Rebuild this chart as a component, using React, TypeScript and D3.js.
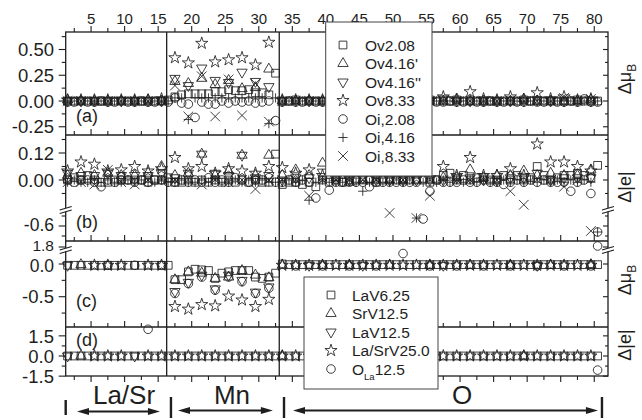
import React from "react";
import * as d3 from "d3";

const _ = null;
type V = number | null;

// ---------- x axis : atom index ----------
const xMajorTicks = [5, 10, 15, 20, 25, 30, 35, 40, 45, 50, 55, 60, 65, 70, 75, 80];
const xMinorTicks = [2.5, 7.5, 12.5, 17.5, 22.5, 27.5, 32.5, 37.5, 42.5, 47.5, 52.5, 57.5, 62.5, 67.5, 72.5, 77.5];
const atoms = d3.range(1, 81);
const regionBounds = [16.27, 33.05];
const groupLabels = ["La/Sr", "Mn", "O"];
const groupEdges = [1.22, 16.91, 33.76, 81.15];
const groupArrowFrom = [2.9, 17.96, 35.1];
const groupArrowTo = [15.27, 32.1, 80.55];
const groupLabelAt = [9.91, 26.0, 60.3];

// ---------- panel (a) : delta mu_B, O vacancies / interstitials ----------
const aOv208: V[] = [
  0, 0, 0, 0, 0, 0, 0, 0, 0, 0, 0, 0, 0, 0, 0, .01,
  .04, .06, .07, .07, .07, .07, .09, .09, .11, .10, .10, .11, .08, .08, .06, .27,
  0, 0, .01, 0, 0, 0, 0, 0, 0, 0, 0, 0, 0, 0, 0, 0,
  0, 0, 0, 0, 0, 0, .01, 0, 0, 0, .01, 0, 0, 0, 0, 0,
  0, 0, 0, 0, .01, 0, 0, 0, 0, 0, 0, 0, .01, 0, 0, 0];
const aOv416a: V[] = [
  .01, _, 0, _, 0, _, 0, _, 0, _, 0, _, .01, _, 0, _,
  .19, _, .17, _, .22, _, .16, _, .20, _, .12, _, .13, _, .31, _,
  0, _, 0, _, 0, _, 0, _, 0, _, 0, _, 0, _, 0, _,
  0, _, 0, _, 0, _, 0, _, 0, _, .02, _, 0, _, 0, _,
  0, _, 0, _, .02, _, 0, _, 0, _, 0, _, 0, _, .01, _];
const aOv416b: V[] = [
  0, _, 0, _, 0, _, 0, _, 0, _, 0, _, 0, _, 0, _,
  .22, _, .15, _, .32, _, .20, _, .18, _, .28, _, .19, _, .14, _,
  0, _, 0, _, 0, _, 0, _, 0, _, 0, _, 0, _, 0, _,
  0, _, 0, _, 0, _, 0, _, .02, _, 0, _, 0, _, 0, _,
  0, _, 0, _, 0, _, .01, _, 0, _, 0, _, 0, _, 0, _];
const aOv833: V[] = [
  .01, _, .01, _, .01, _, .01, _, .01, _, .01, _, .01, _, .02, _,
  .42, _, .37, _, .56, _, .38, _, .40, _, .42, _, .35, _, .57, _,
  .01, _, .01, _, .01, _, .01, _, .01, _, .01, _, .01, _, .01, _,
  .01, _, .01, _, .01, _, .01, _, .04, _, .01, _, .09, _, .02, _,
  .01, _, .04, _, .01, _, .08, _, .02, _, .04, _, .01, _, .02, _];
const aOi208: V[] = [
  -.01, -.01, 0, -.01, -.01, 0, -.01, -.01, 0, -.01, -.01, 0, -.01, -.01, 0, -.01,
  .03, -.02, -.03, -.16, -.01, -.03, -.03, 0, -.02, 0, -.01, 0, -.02, -.01, 0, -.19,
  -.01, 0, -.01, -.01, 0, -.01, -.01, 0, -.01, -.01, 0, -.01, -.01, 0, -.01, -.01,
  0, -.01, -.01, 0, -.01, -.01, 0, -.01, -.01, 0, -.01, -.01, 0, -.01, -.01, 0,
  -.01, -.01, 0, -.01, -.01, 0, -.01, -.01, 0, -.01, -.01, 0, -.01, .02, -.01, -.01];
const aOi416: V[] = [
  0, 0, 0, 0, 0, 0, 0, 0, 0, 0, 0, 0, 0, 0, 0, 0,
  .03, .03, -.18, .03, .03, .03, .03, .03, .03, .03, .03, .03, .03, .03, -.22, .03,
  0, 0, 0, 0, 0, 0, 0, 0, 0, 0, 0, 0, 0, 0, 0, 0,
  0, 0, 0, 0, 0, 0, 0, 0, 0, 0, 0, 0, 0, 0, 0, 0,
  0, 0, 0, 0, 0, 0, .01, 0, 0, 0, 0, 0, 0, 0, 0, 0];
const aOi833: V[] = [
  0, _, 0, _, 0, _, 0, _, 0, _, 0, _, 0, _, 0, _,
  .15, _, -.15, _, .24, _, -.15, _, .21, _, -.14, _, .17, _, -.20, _,
  0, _, 0, _, 0, _, 0, _, 0, _, 0, _, 0, _, 0, _,
  0, _, 0, _, 0, _, 0, _, 0, _, 0, _, 0, _, 0, _,
  0, _, 0, _, 0, _, 0, _, 0, _, .03, _, 0, _, .02, _];

// ---------- panel (b) : delta |e| ----------
const bOv208: V[] = [
  0, .01, 0, .02, 0, -.01, -.01, 0, 0, 0, 0, 0, -.01, 0, 0, .01,
  -.01, -.01, 0, -.01, 0, -.01, 0, -.01, 0, -.01, 0, -.01, 0, -.01, -.01, .115,
  -.02, -.01, -.01, -.02, -.01, -.03, 0, -.01, 0, -.01, 0, 0, 0, 0, -.01, 0,
  0, 0, 0, 0, 0, 0, -.01, 0, .02, .03, 0, .02, 0, .01, .01, 0,
  0, .02, 0, .02, 0, .01, .06, .02, 0, .01, .02, .02, .03, .02, .01, .065];
const bOv416a: V[] = [
  .02, _, .03, _, .02, _, .03, _, .02, _, .02, _, .03, _, .06, _,
  .02, _, .03, _, .115, _, .02, _, .04, _, .11, _, .02, _, .11, _,
  .02, _, .045, _, .02, _, .075, _, .01, _, -.01, _, 0, _, 0, _,
  0, _, 0, _, 0, _, 0, _, .01, _, .01, _, .045, _, .01, _,
  .02, _, .02, _, .04, _, .02, _, .03, _, .02, _, .02, _, .045, _];
const bOv416b: V[] = [
  .03, _, .02, _, .02, _, .03, _, .02, _, .02, _, .02, _, .03, _,
  .01, _, .03, _, .115, _, .03, _, .02, _, .11, _, .01, _, .02, _,
  0, _, .01, _, .01, _, .035, _, 0, _, 0, _, .01, _, 0, _,
  0, _, 0, _, 0, _, 0, _, 0, _, .01, _, .01, _, 0, _,
  0, _, .01, _, .01, _, .03, _, 0, _, .01, _, .01, _, .01, _];
const bOv833: V[] = [
  .04, _, .08, _, .07, _, .04, _, .045, _, .06, _, .04, _, .05, _,
  .10, _, .05, _, .06, _, .03, _, .05, _, .04, _, .03, _, .06, _,
  .055, _, .03, _, .045, _, .02, _, .01, _, .01, _, .01, _, .01, _,
  .01, _, .01, _, .01, _, .01, _, .06, _, .02, _, .10, _, .02, _,
  .02, _, .05, _, .02, _, .16, _, .08, _, .08, _, .06, _, .04, _];
const bOi208: V[] = [
  0, -.01, 0, 0, -.01, -.03, 0, -.01, 0, 0, -.01, 0, -.01, 0, 0, -.01,
  -.01, 0, -.01, 0, -.01, .01, -.01, 0, -.01, .01, 0, -.01, 0, 0, .01, -.01,
  -.01, 0, -.01, 0, -.01, -.08, .01, -.045, -.01, -.01, -.01, -.01, -.01, -.03, -.01, -.01,
  -.01, -.01, -.01, -.01, -.01, -.53, -.05, 0, -.01, -.01, -.01, 0, -.01, -.01, 0, -.01,
  -.01, -.02, -.01, 0, -.01, 0, -.01, 0, -.01, -.01, -.01, -.05, -.01, 0, -.06, -.66];
const bOi416: V[] = [
  -.01, 0, -.01, -.01, 0, -.01, 0, -.01, -.01, 0, -.01, 0, -.01, -.01, 0, -.01,
  -.01, 0, -.01, -.01, 0, -.01, 0, -.01, -.01, 0, -.01, 0, -.01, 0, -.01, -.01,
  -.01, 0, -.01, 0, -.09, -.01, 0, -.01, 0, -.01, 0, -.01, -.05, -.01, 0, -.01,
  -.01, 0, -.01, 0, -.52, -.01, 0, -.01, 0, -.01, 0, -.01, 0, -.01, 0, -.01,
  -.01, 0, -.01, 0, -.01, 0, -.01, 0, -.01, 0, -.01, 0, -.01, 0, -.01, -.66];
const bOi833: V[] = [
  -.01, _, -.01, _, -.02, _, .045, _, -.01, _, -.02, _, 0, _, 0, _,
  0, _, 0, _, -.02, _, 0, _, -.01, _, 0, _, -.04, _, 0, _,
  0, _, 0, _, -.07, _, 0, _, 0, _, 0, _, 0, _, 0, _,
  -.47, _, 0, _, -.52, _, -.07, _, 0, _, 0, _, 0, _, 0, _,
  0, _, -.05, _, -.11, _, 0, _, 0, _, -.03, _, 0, _, -.65, _];

// ---------- panel (c) : delta mu_B, cation vacancies ----------
const cLaV625: V[] = [
  -.02, -.02, -.02, -.02, -.02, -.02, -.02, -.02, -.02, -.02, -.02, -.02, -.02, -.02, -.02, -.02,
  -.24, -.24, -.12, -.08, -.09, -.10, -.22, -.14, -.12, -.10, -.10, -.10, -.20, -.22, -.20, -.14,
  0, -.01, -.01, -.01, -.01, -.01, -.01, -.01, -.01, -.01, -.01, -.01, -.01, -.01, -.01, -.01,
  -.01, -.01, -.01, -.01, -.01, -.01, -.01, -.01, -.01, -.01, -.01, -.01, -.01, -.01, -.01, -.01,
  -.01, -.01, -.01, -.01, -.01, -.01, -.01, -.01, -.01, -.01, -.01, -.01, -.01, -.01, -.01, -.01];
const cSrV125: V[] = [
  _, _, -.01, _, _, _, _, _, _, _, _, _, _, _, _, _,
  -.24, _, -.12, _, -.14, _, -.22, _, -.20, _, -.10, _, -.17, _, -.21, _,
  -.02, _, _, _, _, _, -.02, _, _, _, -.02, _, _, _, _, _,
  -.02, _, _, _, _, _, -.02, _, _, _, _, _, -.02, _, _, _,
  _, _, -.02, _, _, _, _, _, -.02, _, _, _, _, _, -.01, _];
const cLaV125: V[] = [
  -.02, _, _, _, _, _, _, _, _, _, _, _, _, _, _, _,
  -.42, _, -.28, _, -.17, _, -.38, _, -.17, _, -.25, _, -.43, _, -.35, _,
  _, _, _, _, -.02, _, _, _, _, _, _, _, -.02, _, _, _,
  _, _, _, _, _, _, _, _, -.02, _, _, _, _, _, _, _,
  _, _, _, _, _, _, -.02, _, _, _, _, _, _, _, _, _];
const cLaSrV25: V[] = [
  _, _, _, _, -.02, _, -.02, _, -.02, _, _, _, -.02, _, -.02, _,
  -.65, _, -.69, _, -.62, _, -.64, _, -.49, _, -.55, _, -.65, _, -.54, _,
  -.02, _, -.02, _, -.02, _, -.02, _, -.02, _, -.02, _, -.02, _, -.02, _,
  -.02, _, -.02, _, -.02, _, -.02, _, -.02, _, -.02, _, -.02, _, -.02, _,
  -.02, _, -.02, _, -.02, _, -.02, _, -.02, _, -.02, _, -.02, _, -.02, _];
const cOLa125: V[] = [
  _, _, _, _, _, _, -.02, _, _, _, -.02, _, _, _, -.02, _,
  -.45, _, -.30, _, -.20, _, -.40, _, -.20, _, -.27, _, -.45, _, -.37, _,
  _, _, -.03, _, _, _, -.03, _, _, _, -.03, _, _, _, -.03, _,
  _, _, .16, _, _, _, -.03, _, _, _, -.03, _, _, _, -.03, _,
  _, _, -.03, _, _, _, -.03, _, _, _, -.03, _, _, _, -.03, 1.81];

// ---------- panel (d) : delta |e| ----------
const dLaV625: V[] = [
  0, 0, 0, 0, 0, 0, 0, 0, 0, 0, 0, 0, 0, 0, 0, 0,
  0, 0, 0, 0, 0, 0, 0, 0, 0, 0, 0, 0, 0, 0, 0, 0,
  0, 0, 0, 0, 0, 0, 0, 0, 0, 0, 0, 0, 0, 0, 0, 0,
  0, 0, 0, 0, 0, 0, 0, 0, 0, 0, 0, 0, 0, 0, 0, 0,
  0, 0, 0, 0, 0, 0, 0, 0, 0, 0, 0, 0, 0, 0, 0, 0];
const dSrV125: V[] = [
  _, _, 0, _, _, _, _, _, _, _, _, _, _, _, _, _,
  _, _, _, _, _, _, _, _, _, _, _, _, _, _, _, _,
  0, _, _, _, _, _, _, _, _, _, 0, _, _, _, _, _,
  _, _, _, _, _, _, 0, _, _, _, _, _, _, _, _, _,
  _, _, _, _, 0, _, _, _, _, _, _, _, _, _, _, _];
const dLaV125: V[] = [
  0, _, _, _, _, _, _, _, _, _, 0, _, _, _, _, _,
  _, _, _, _, _, _, _, _, _, _, _, _, _, _, _, _,
  _, _, _, _, _, _, _, _, _, _, _, _, _, _, _, _,
  _, _, _, _, _, _, _, _, _, _, _, _, _, _, _, _,
  _, _, _, _, _, _, _, _, _, _, _, _, _, _, _, _];
const dLaSrV25: V[] = [
  _, _, _, _, 0, _, 0, _, 0, _, _, _, 0, _, 0, _,
  0, _, 0, _, 0, _, 0, _, 0, _, 0, _, 0, _, 0, _,
  0, _, 0, _, 0, _, 0, _, 0, _, 0, _, 0, _, 0, _,
  0, _, 0, _, 0, _, 0, _, 0, _, 0, _, 0, _, 0, _,
  0, _, 0, _, 0, _, 0, _, 0, _, 0, _, 0, _, 0, _];
const dOLa125: V[] = [
  _, _, _, _, _, _, _, _, _, _, _, _, 1.99, _, _, _,
  _, _, _, _, _, _, _, _, _, _, _, _, _, _, _, _,
  _, _, _, _, _, _, _, _, _, _, _, _, _, _, _, _,
  _, _, _, _, _, _, _, _, _, _, _, _, _, _, _, _,
  _, _, _, _, _, _, _, _, _, _, _, _, _, _, _, -1.05];

// ---------- legends / symbols ----------
const legendANames = ["Ov2.08", "Ov4.16'", "Ov4.16''", "Ov8.33", "Oi,2.08", "Oi,4.16", "Oi,8.33"];
const legendASymbols = ["square", "triUp", "triDown", "star", "circle", "plus", "cross"];
const legendBNames = ["LaV6.25", "SrV12.5", "LaV12.5", "La/SrV25.0", "O|La|12.5"];
const legendBSymbols = ["square", "triUp", "triDown", "star", "circle"];

// ---------- y tick values ----------
const aTicks = [0.5, 0.25, 0, -0.25];
const aTickLabels = ["0.50", "0.25", "0.00", "-0.25"];
const aMinor = [0.625, 0.375, 0.125, -0.125];
const bTicks = [0.12, 0, -0.6];
const bTickLabels = ["0.12", "0.00", "-0.6"];
const bMinor = [0.18, 0.06, -0.06, -0.5, -0.7];
const cTicks = [1.8, 0, -0.5];
const cTickLabels = ["1.8", "0.0", "-0.5"];
const cMinor = [-0.25, -0.75];
const dTicks = [1.5, 0, -1.5];
const dTickLabels = ["1.5", "0.0", "-1.5"];
const dMinor = [0.75, -0.75];

// ---------- layout ----------
const FONT = "'Liberation Sans', Arial, Helvetica, sans-serif";
const INK = "#1e1e1e";
const XL = 65.7, XR = 608;
const x = d3.scaleLinear().domain([1.22, 82.05]).range([XL, XR]);
const ATOM_SHIFT = 0.5;

type Seg = { top: number; bottom: number; lo: number; hi: number };
type Panel = {
  tag: string; tagY: number; title: "mu" | "e"; titleY: number;
  segs: Seg[]; breakY?: number;
  ticks: number[]; tickLabels: string[]; minor: number[];
  labelSize: number[]; labelShift: number[];
  series: V[][]; symbols: string[];
};

const panels: Panel[] = [
  { tag: "(a)", tagY: 122, title: "mu", titleY: 79,
    segs: [{ top: 32, bottom: 135, lo: -0.33, hi: 0.67 }],
    ticks: aTicks, tickLabels: aTickLabels, minor: aMinor,
    labelSize: [18.5, 18.5, 18.5, 18.5], labelShift: [0, 0, 0, 0],
    series: [aOv208, aOv416a, aOv416b, aOv833, aOi208, aOi416, aOi833], symbols: legendASymbols },
  { tag: "(b)", tagY: 228, title: "e", titleY: 187,
    segs: [{ top: 135, bottom: 209, lo: -0.129, hi: 0.2 }, { top: 210, bottom: 241, lo: -0.75, hi: -0.44 }],
    breakY: 209.5,
    ticks: bTicks, tickLabels: bTickLabels, minor: bMinor,
    labelSize: [18.5, 18.5, 17.5], labelShift: [0, 0, -1],
    series: [bOv208, bOv416a, bOv416b, bOv833, bOi208, bOi416, bOi833], symbols: legendASymbols },
  { tag: "(c)", tagY: 307, title: "mu", titleY: 280,
    segs: [{ top: 241, bottom: 249, lo: 1.78, hi: 1.86 }, { top: 250, bottom: 327, lo: -0.963, hi: 0.214 }],
    breakY: 249.5,
    ticks: cTicks, tickLabels: cTickLabels, minor: cMinor,
    labelSize: [15.5, 17.5, 18.5], labelShift: [-1.5, 1.5, 0],
    series: [cLaV625, cSrV125, cLaV125, cLaSrV25, cOLa125], symbols: legendBSymbols },
  { tag: "(d)", tagY: 346, title: "e", titleY: 345,
    segs: [{ top: 327, bottom: 376, lo: -1.49, hi: 2.16 }],
    ticks: dTicks, tickLabels: dTickLabels, minor: dMinor,
    labelSize: [18.5, 18.5, 18.5], labelShift: [0, 0, 0],
    series: [dLaV625, dSrV125, dLaV125, dLaSrV25, dOLa125], symbols: legendBSymbols },
];

function yOf(p: Panel, v: number): number {
  let seg = p.segs.find((s) => v >= s.lo && v <= s.hi);
  if (!seg) {
    seg = p.segs.reduce((best, s) =>
      Math.min(Math.abs(v - s.lo), Math.abs(v - s.hi)) < Math.min(Math.abs(v - best.lo), Math.abs(v - best.hi)) ? s : best);
  }
  return d3.scaleLinear().domain([seg.lo, seg.hi]).range([seg.bottom, seg.top])(v);
}

const symPaths: Record<string, string> = {
  square: d3.symbol(d3.symbolSquare, 60)() as string,
  triUp: d3.symbol(d3.symbolTriangle, 46)() as string,
  triDown: d3.symbol(d3.symbolTriangle, 46)() as string,
  star: d3.symbol(d3.symbolStar, 46)() as string,
  circle: d3.symbol(d3.symbolCircle, 58)() as string,
  plus: "M-4.6,0H4.6M0,-4.6V4.6",
  cross: "M-4.8,-4.8L4.8,4.8M-4.8,4.8L4.8,-4.8",
};

function Marker({ type, cx, cy }: { type: string; cx: number; cy: number }) {
  const rot = type === "triDown" ? " rotate(180)" : "";
  return (
    <path d={symPaths[type]} transform={`translate(${cx},${cy})${rot}`}
      fill="none" stroke={INK} strokeWidth={0.85} />
  );
}

function BreakMark({ bx, by }: { bx: number; by: number }) {
  return (
    <g>
      <rect x={bx - 5} y={by - 1.5} width={10} height={3.5} fill="#fff" />
      <line x1={bx - 6} y1={by + 0.5} x2={bx + 6} y2={by - 3} stroke={INK} strokeWidth={1.1} />
      <line x1={bx - 6} y1={by + 4} x2={bx + 6} y2={by + 0.5} stroke={INK} strokeWidth={1.1} />
    </g>
  );
}

function Arrow({ x1, x2, y }: { x1: number; x2: number; y: number }) {
  const L = 12, Hw = 3.6;
  return (
    <g>
      <line x1={x1 + L - 1} y1={y} x2={x2 - L + 1} y2={y} stroke={INK} strokeWidth={2} />
      <path d={`M${x1},${y}L${x1 + L},${y - Hw}L${x1 + L},${y + Hw}Z`} fill={INK} />
      <path d={`M${x2},${y}L${x2 - L},${y - Hw}L${x2 - L},${y + Hw}Z`} fill={INK} />
    </g>
  );
}

function LegendLabel({ text }: { text: string }) {
  if (text.includes("|")) {
    const [a, sub, b] = text.split("|");
    return (
      <>
        {a}
        <tspan fontSize={9.5} dy={5}>{sub}</tspan>
        <tspan dy={-5}>{b}</tspan>
      </>
    );
  }
  return <>{text}</>;
}

function Legend({ bx, by, w, h, symX, textX, row0, dy, names, symbols }:
  { bx: number; by: number; w: number; h: number; symX: number; textX: number; row0: number; dy: number; names: string[]; symbols: string[] }) {
  return (
    <g>
      <rect x={bx} y={by} width={w} height={h} fill="#fff" stroke="#444" strokeWidth={1} />
      {names.map((n, i) => (
        <g key={n}>
          <Marker type={symbols[i]} cx={symX} cy={row0 + i * dy} />
          <text x={textX} y={row0 + i * dy} dy="0.36em" fontSize={15.5} fill={INK}>
            <LegendLabel text={n} />
          </text>
        </g>
      ))}
    </g>
  );
}

export default function App() {
  const top = panels[0].segs[0].top;
  const bottom = panels[3].segs[0].bottom;
  const hLines = [135, 241, 327];
  const tickRows = [32, 135, 241, 327];

  return (
    <svg width={642} height={420} viewBox="0 0 642 420"
      style={{ position: "absolute", left: 0, top: 0, background: "#fff" }} fontFamily={FONT}>
      <rect x={0} y={0} width={642} height={420} fill="#fff" />

      {/* data markers */}
      {panels.map((p, pi) =>
        p.series.map((vals, si) =>
          vals.map((v, i) =>
            v == null ? null : (
              <Marker key={`${pi}-${si}-${i}`} type={p.symbols[si]}
                cx={x(atoms[i] + ATOM_SHIFT)} cy={yOf(p, v)} />
            )
          )
        )
      )}

      {/* frame */}
      <rect x={XL} y={top} width={XR - XL} height={bottom - top} fill="none" stroke={INK} strokeWidth={1.3} />
      {hLines.map((hy) => (
        <line key={hy} x1={XL} x2={XR} y1={hy} y2={hy} stroke={INK} strokeWidth={1.3} />
      ))}
      {regionBounds.map((b) => (
        <line key={b} x1={x(b)} x2={x(b)} y1={top} y2={bottom} stroke={INK} strokeWidth={1.3} />
      ))}

      {/* x ticks (pointing up from each panel top, down at bottom) */}
      {tickRows.map((ty) => (
        <g key={ty}>
          {xMajorTicks.map((t) => (
            <line key={`M${t}`} x1={x(t)} x2={x(t)} y1={ty} y2={ty - 6} stroke={INK} strokeWidth={1.1} />
          ))}
          {xMinorTicks.map((t) => (
            <line key={`m${t}`} x1={x(t)} x2={x(t)} y1={ty} y2={ty - 4} stroke={INK} strokeWidth={1.1} />
          ))}
        </g>
      ))}
      {xMajorTicks.map((t) => (
        <line key={`bM${t}`} x1={x(t)} x2={x(t)} y1={bottom} y2={bottom + 6} stroke={INK} strokeWidth={1.1} />
      ))}
      {xMinorTicks.map((t) => (
        <line key={`bm${t}`} x1={x(t)} x2={x(t)} y1={bottom} y2={bottom + 4} stroke={INK} strokeWidth={1.1} />
      ))}
      {xMajorTicks.map((t) => (
        <text key={`xl${t}`} x={x(t)} y={24} textAnchor="middle" fontSize={15} fill={INK}>{t}</text>
      ))}

      {/* y ticks, labels, right ticks */}
      {panels.map((p, pi) => (
        <g key={`y${pi}`}>
          {p.ticks.map((t, i) => {
            const yy = yOf(p, t);
            return (
              <g key={t}>
                <line x1={XL} x2={XL - 7} y1={yy} y2={yy} stroke={INK} strokeWidth={1.1} />
                <line x1={XR} x2={XR - 5} y1={yy} y2={yy} stroke={INK} strokeWidth={1.1} />
                <text x={54} y={yy + p.labelShift[i]} dy="0.36em" textAnchor="end"
                  fontSize={p.labelSize[i]} fill={INK}>{p.tickLabels[i]}</text>
              </g>
            );
          })}
          {p.minor.map((t) => {
            const yy = yOf(p, t);
            return (
              <g key={`mi${t}`}>
                <line x1={XL} x2={XL - 4} y1={yy} y2={yy} stroke={INK} strokeWidth={1.1} />
                <line x1={XR} x2={XR - 3} y1={yy} y2={yy} stroke={INK} strokeWidth={1.1} />
              </g>
            );
          })}
          {p.breakY != null && (
            <>
              <BreakMark bx={XL} by={p.breakY} />
              <BreakMark bx={XR} by={p.breakY} />
            </>
          )}
          <text x={76} y={p.tagY} fontSize={18} fill={INK}>{p.tag}</text>
          <text transform={`translate(631,${p.titleY}) rotate(-90)`} textAnchor="middle" fontSize={18} fill={INK}>
            {p.title === "mu" ? (
              <>Δμ<tspan fontSize={12} dy={5}>B</tspan></>
            ) : (
              <>Δ|e|</>
            )}
          </text>
        </g>
      ))}

      {/* legends */}
      <Legend bx={325.7} by={22} w={106.3} h={154} symX={343} textX={365} row0={45} dy={18.5}
        names={legendANames} symbols={legendASymbols} />
      <Legend bx={304} by={277} w={134} h={112} symX={331} textX={352} row0={295} dy={18.5}
        names={legendBNames} symbols={legendBSymbols} />

      {/* region annotation */}
      {groupEdges.map((g, i) => (
        <line key={`ge${i}`} x1={x(g)} x2={x(g)} y1={i === 0 ? 400 : 397} y2={i === 0 ? 415 : 418}
          stroke={INK} strokeWidth={2.4} />
      ))}
      {groupLabels.map((g, i) => (
        <g key={g}>
          <Arrow x1={x(groupArrowFrom[i])} x2={x(groupArrowTo[i])} y={i === 0 ? 411.5 : 410.5} />
          <text x={x(groupLabelAt[i])} y={404} textAnchor="middle" fontSize={26} fill={INK}>{g}</text>
        </g>
      ))}
    </svg>
  );
}
